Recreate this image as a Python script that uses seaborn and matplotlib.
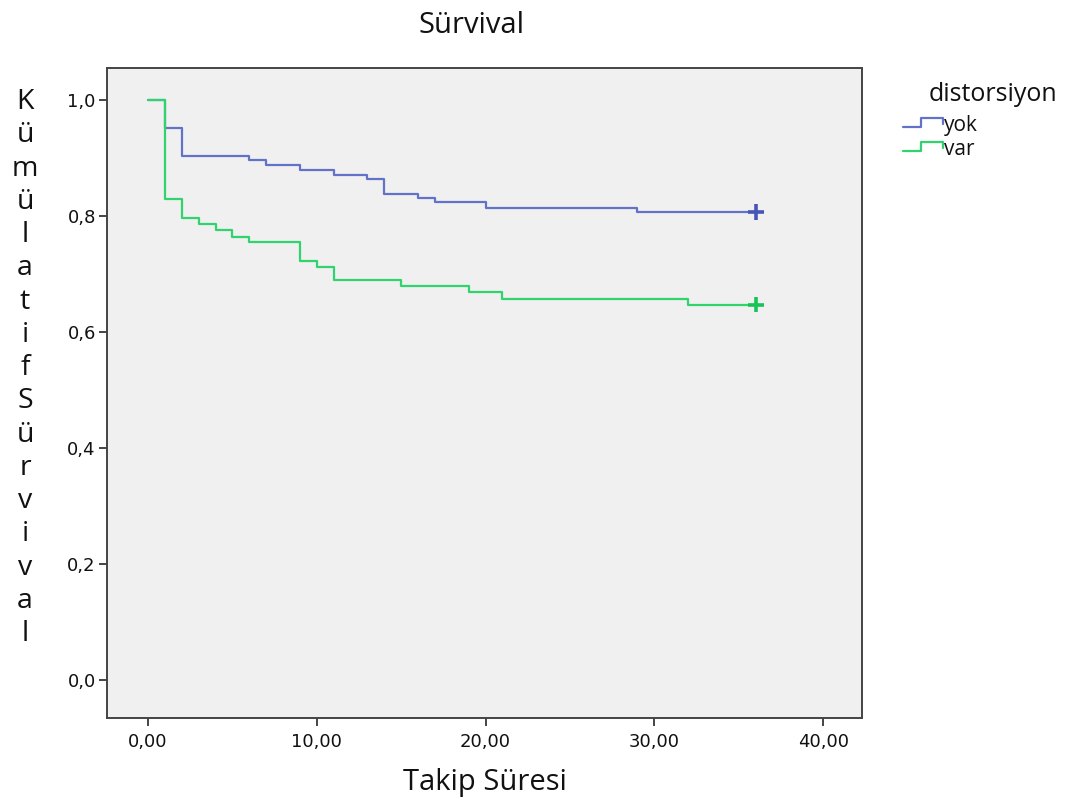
import matplotlib
matplotlib.use("Agg")
import matplotlib.pyplot as plt
import numpy as np
import pandas as pd
import seaborn as sns
from matplotlib.lines import Line2D
from matplotlib.legend_handler import HandlerBase
from matplotlib.ticker import FuncFormatter

# Kaplan-Meier steps
yok_times = [0, 1, 2, 6, 7, 9, 11, 13, 14, 16, 17, 20, 29, 36]
yok_surv = [1.0, 0.952, 0.903, 0.896, 0.887, 0.879, 0.871, 0.863, 0.838, 0.830, 0.823, 0.814, 0.806, 0.806]

var_times = [0, 1, 2, 3, 4, 5, 6, 9, 10, 11, 15, 19, 21, 32, 36]
var_surv = [1.0, 0.829, 0.796, 0.786, 0.776, 0.764, 0.755, 0.722, 0.712, 0.690, 0.679, 0.668, 0.657, 0.647, 0.647]

groups = ["yok", "var"]
censor_time = [36, 36]
censor_surv = [0.806, 0.647]

x_ticks = [0, 10, 20, 30, 40]
y_ticks = [0.0, 0.2, 0.4, 0.6, 0.8, 1.0]

colors = {"yok": "#6272c9", "var": "#2fd46c"}
marker_colors = {"yok": "#4656b8", "var": "#18c457"}

df = pd.concat([
    pd.DataFrame({"time": yok_times, "surv": yok_surv, "grup": "yok"}),
    pd.DataFrame({"time": var_times, "surv": var_surv, "grup": "var"}),
])
cens = pd.DataFrame({"time": censor_time, "surv": censor_surv, "grup": groups})

sns.set_style("ticks")
plt.rcParams["font.family"] = ["Open Sans", "DejaVu Sans"]

fig = plt.figure(figsize=(10.73, 8.09), dpi=100)
ax = fig.add_axes([0.0997, 0.1125, 0.7036, 0.8035])
ax.set_facecolor("#f0f0f0")

sns.lineplot(data=df, x="time", y="surv", hue="grup", palette=colors,
             drawstyle="steps-post", estimator=None, lw=1.6, legend=False, ax=ax)
sns.scatterplot(data=cens, x="time", y="surv", hue="grup", palette=marker_colors,
                marker="+", s=130, linewidth=2.6, legend=False, ax=ax, zorder=5)

ax.set_xlim(-2.43, 42.3)
ax.set_ylim(-0.066, 1.055)
ax.set_xticks(x_ticks)
ax.set_yticks(y_ticks)
ax.xaxis.set_major_formatter(FuncFormatter(lambda v, p: f"{v:.2f}".replace(".", ",")))
ax.yaxis.set_major_formatter(FuncFormatter(lambda v, p: f"{v:.1f}".replace(".", ",")))
for lab in ax.get_xticklabels() + ax.get_yticklabels():
    lab.set_fontfamily("DejaVu Sans")
ax.tick_params(axis="both", direction="out", length=6, width=1.4, color="#444444",
               labelsize=13, labelcolor="#111111")
ax.tick_params(axis="x", pad=5)
ax.tick_params(axis="y", pad=2)
for sp in ax.spines.values():
    sp.set_visible(True)
    sp.set_color("#444444")
    sp.set_linewidth(1.4)

ax.set_xlabel("Takip Süresi", fontsize=21, labelpad=12, color="#111111")
ax.set_ylabel("")

fig.text(0.439, 0.969, "Sürvival", fontsize=21, ha="center", va="center", color="#111111")

letters = "Kümülatif Sürvival".replace(" ", "")
fig.text(0.0233, 0.545, "\n".join(letters), fontsize=20.5, ha="center", va="center",
         linespacing=1.25, color="#111111")


class StepHandler(HandlerBase):
    def create_artists(self, legend, orig_handle, xdescent, ydescent, width, height,
                       fontsize, trans):
        x0, y0 = -xdescent, -ydescent
        xs = [x0, x0 + 0.45 * width, x0 + 0.45 * width, x0 + width, x0 + width]
        ys = [y0 + 0.25 * height, y0 + 0.25 * height, y0 + 0.9 * height,
              y0 + 0.9 * height, y0 + 0.5 * height]
        line = Line2D(xs, ys, color=orig_handle.get_color(), lw=orig_handle.get_linewidth())
        line.set_transform(trans)
        return [line]


handles = [Line2D([], [], color=colors[g], lw=1.6) for g in groups]
leg = fig.legend(handles, groups, handler_map={Line2D: StepHandler()},
                 loc="upper left", bbox_to_anchor=(0.842, 0.858), frameon=False,
                 fontsize=15, handlelength=1.9, handletextpad=0.05, labelspacing=0.15,
                 borderpad=0, borderaxespad=0)
for t in leg.get_texts():
    t.set_color("#111111")
fig.text(0.865, 0.883, "distorsiyon", fontsize=18, ha="left", va="center", color="#111111")

fig.savefig("out.png", dpi=100)
